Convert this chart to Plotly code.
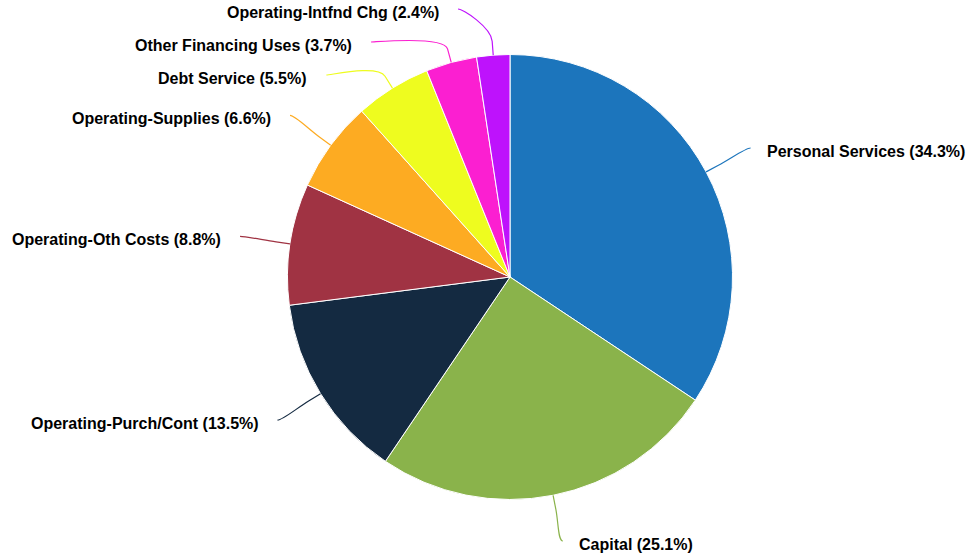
import math
import plotly.graph_objects as go

# Expenditure shares by category (percent of total)
categories = [
    "Personal Services",
    "Capital",
    "Operating-Purch/Cont",
    "Operating-Oth Costs",
    "Operating-Supplies",
    "Debt Service",
    "Other Financing Uses",
    "Operating-Intfnd Chg",
]
shares = [34.3, 25.1, 13.5, 8.8, 6.6, 5.5, 3.7, 2.4]
colors = ["#1c75bc", "#8ab34b", "#142a41", "#a03343", "#fdab22", "#eefc1f", "#fb1fd1", "#be12fc"]

# Canvas and pie geometry (pixels)
W, H = 974, 555
CX, CY, R = 510.0, 277.0, 222.5
LABEL_R = 273.0      # radius of the label anchor circle
BREAK_R = R + 14.0   # where the connector starts to bend
BOX = 33.0           # vertical room per label
Y_MIN, Y_MAX = 9.0, 541.0
GAP_LEFT, GAP_RIGHT = 17.0, 14.0   # space between connector end and text


def px(x):
    return x / W


def py(y):
    return 1.0 - y / H


def distribute(items):
    """Spread label centres so they don't overlap; returns the clusters."""
    items = sorted(items, key=lambda d: d["t"])
    clusters = [[d] for d in items]

    def place(cl):
        mean = sum(d["t"] for d in cl) / len(cl)
        start = mean - BOX * (len(cl) - 1) / 2.0
        start = max(Y_MIN, min(start, Y_MAX - BOX * (len(cl) - 1)))
        for i, d in enumerate(cl):
            d["y"] = start + i * BOX

    for cl in clusters:
        place(cl)
    merged = True
    while merged:
        merged = False
        for i in range(len(clusters) - 1):
            a, b = clusters[i], clusters[i + 1]
            if a[-1]["y"] + BOX > b[0]["y"] + 1e-6:
                clusters[i] = a + b
                del clusters[i + 1]
                place(clusters[i])
                merged = True
                break
    for cl in clusters:
        for d in cl:
            d["grouped"] = len(cl) > 1
    return clusters


total = sum(shares)
points = []
cum = 0.0
for name, v, c in zip(categories, shares, colors):
    theta = 2 * math.pi * (cum + v / 2.0) / total
    cum += v
    dx, dy = math.sin(theta), -math.cos(theta)
    points.append({
        "name": name, "v": v, "c": c,
        "dx": dx, "dy": dy,
        "left": dx < 0,
        "t": CY + LABEL_R * dy,
        "nx": CX + LABEL_R * dx,
    })

for half in (True, False):
    distribute([p for p in points if p["left"] == half])

shapes = []
annotations = []
for p in points:
    y = p["y"]
    if p["grouped"]:
        off = math.sqrt(max(LABEL_R ** 2 - (y - CY) ** 2, 0.0))
        x = CX - off if p["left"] else CX + off
    else:
        x = p["nx"]
    tx, ty = CX + R * p["dx"], CY + R * p["dy"]
    bx, by = CX + BREAK_R * p["dx"], CY + BREAK_R * p["dy"]
    c1x = x + (5 if p["left"] else -5)
    path = (
        f"M {px(x)},{py(y)} "
        f"C {px(c1x)},{py(y)} {px(2 * bx - tx)},{py(2 * by - ty)} {px(bx)},{py(by)} "
        f"L {px(tx)},{py(ty)}"
    )
    shapes.append(dict(type="path", xref="paper", yref="paper", path=path,
                       line=dict(color=p["c"], width=1.2), layer="above"))
    annotations.append(dict(
        xref="paper", yref="paper",
        x=px(x - GAP_LEFT if p["left"] else x + GAP_RIGHT), y=py(y + 3),
        xanchor="right" if p["left"] else "left", yanchor="middle",
        text=f"<b>{p['name']} ({p['v']}%)</b>",
        showarrow=False,
        font=dict(family="Liberation Sans, Arial, sans-serif", size=16, color="#000000"),
    ))

fig = go.Figure(go.Pie(
    labels=categories,
    values=shares,
    sort=False,
    direction="clockwise",
    rotation=0,
    textinfo="none",
    hoverinfo="label+percent",
    marker=dict(colors=colors, line=dict(color="#ffffff", width=1)),
    domain=dict(x=[px(CX - R), px(CX + R)], y=[py(CY + R), py(CY - R)]),
    showlegend=False,
))

fig.update_layout(
    width=W, height=H, autosize=False,
    margin=dict(l=0, r=0, t=0, b=0),
    paper_bgcolor="#ffffff", plot_bgcolor="#ffffff",
    shapes=shapes, annotations=annotations,
)

fig.write_html("out.html")
